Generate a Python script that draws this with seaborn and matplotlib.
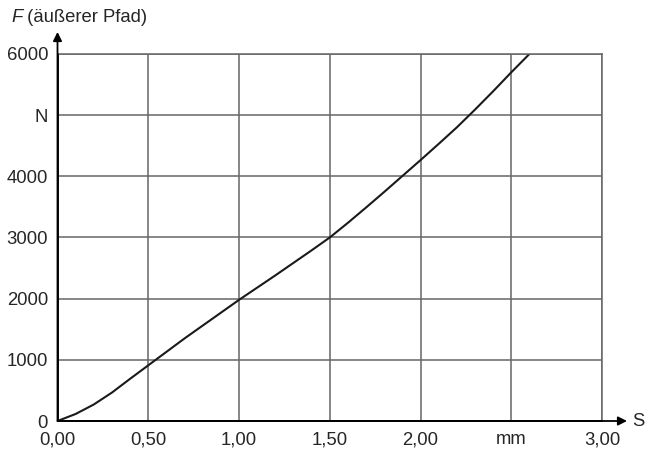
import numpy as np
import pandas as pd
import matplotlib.pyplot as plt
import seaborn as sns

# weg s in mm, kraft F in N (aeusserer Pfad)
s_mm = [0.0, 0.1, 0.2, 0.3, 0.4, 0.5, 0.6, 0.7, 0.8, 0.9, 1.0, 1.1, 1.2, 1.3,
        1.4, 1.5, 1.6, 1.7, 1.8, 1.9, 2.0, 2.1, 2.2, 2.3, 2.4, 2.5, 2.6]
f_n = [0, 115, 270, 465, 690, 910, 1130, 1350, 1560, 1770, 1980, 2180, 2380,
       2585, 2790, 3000, 3240, 3490, 3745, 4005, 4265, 4530, 4800, 5090, 5390,
       5700, 6000]

x_ticks = [0.0, 0.5, 1.0, 1.5, 2.0, 2.5, 3.0]
x_labels = ["0,00", "0,50", "1,00", "1,50", "2,00", "mm", "3,00"]
y_ticks = [0, 1000, 2000, 3000, 4000, 5000, 6000]
y_labels = ["0", "1000", "2000", "3000", "4000", "N", "6000"]

df = pd.DataFrame({"s": s_mm, "F": f_n})

sns.set_style("white")
plt.rcParams["font.family"] = ["Liberation Sans", "DejaVu Sans"]
fs = 13.3

fig = plt.figure(figsize=(6.53, 4.61), dpi=100)
ax = fig.add_axes([57.5 / 653, 1 - 421 / 461, 544.5 / 653, 367 / 461])

sns.lineplot(data=df, x="s", y="F", ax=ax, color="#1a1a1a", lw=1.5)

ax.set_xlim(0, 3.0)
ax.set_ylim(0, 6000)
ax.set_xticks(x_ticks)
ax.set_xticklabels(x_labels, fontsize=fs)
ax.set_yticks(y_ticks)
ax.set_yticklabels(y_labels, fontsize=fs)
ax.tick_params(axis="x", length=0, pad=7.5)
ax.tick_params(axis="y", length=0, pad=6.8)
ax.set_xlabel("")
ax.set_ylabel("")
ax.grid(True, color="#666666", lw=1.1)

for side in ["top", "right"]:
    ax.spines[side].set_color("#666666")
    ax.spines[side].set_linewidth(1.1)
for side in ["left", "bottom"]:
    ax.spines[side].set_color("black")
    ax.spines[side].set_linewidth(1.3)

# Achsenpfeile
arrow = dict(arrowstyle="-|>", color="black", lw=1.3, mutation_scale=13,
             shrinkA=0, shrinkB=0)
ax.annotate("", xy=(0, 1.06), xytext=(0, 0), xycoords="axes fraction",
            arrowprops=arrow, annotation_clip=False)
ax.annotate("", xy=(1.046, 0), xytext=(0, 0), xycoords="axes fraction",
            arrowprops=arrow, annotation_clip=False)

ax.text(1.055, 0, "S", transform=ax.transAxes, fontsize=fs,
        ha="left", va="center")

fig.text(11 / 653, 1 - 17 / 461, "F", style="italic", fontsize=fs,
         ha="left", va="center")
fig.text(22 / 653, 1 - 17 / 461, " (äußerer Pfad)", fontsize=fs,
         ha="left", va="center")

fig.savefig("out.png", dpi=100)
